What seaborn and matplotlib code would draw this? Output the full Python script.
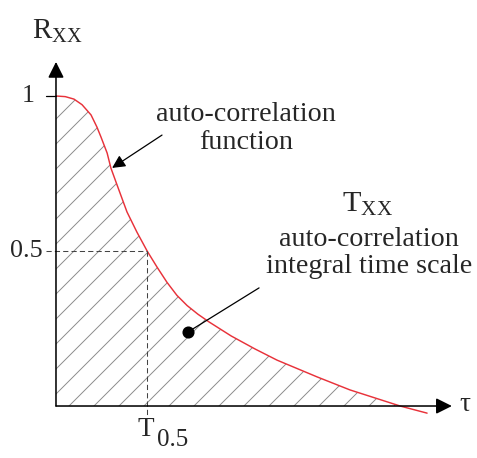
"""
Schematic of an auto-correlation function with its integral time scale.
"""

import matplotlib
matplotlib.use('Agg')
import matplotlib.pyplot as plt
import seaborn as sns
import numpy as np

sns.set_style('white')
plt.rcParams.update({
    'font.family': ['Liberation Serif', 'DejaVu Serif'],
    'mathtext.fontset': 'custom',
    'mathtext.rm': 'Liberation Serif',
    'mathtext.it': 'Liberation Serif:italic',
    'hatch.linewidth': 0.45,
})

# curve (tau, R_xx)
tau = [0.000, 0.030, 0.058, 0.084, 0.113, 0.132, 0.145, 0.165, 0.177, 0.197,
       0.229, 0.261, 0.294, 0.326, 0.358, 0.390, 0.423, 0.458, 0.494, 0.565,
       0.642, 0.713, 0.842, 0.948, 1.110, 1.197]
rxx = [1.000, 0.998, 0.990, 0.972, 0.939, 0.900, 0.868, 0.816, 0.768, 0.713,
       0.626, 0.561, 0.500, 0.448, 0.399, 0.357, 0.324, 0.296, 0.271, 0.226,
       0.184, 0.148, 0.094, 0.052, 0.000, -0.023]

t_half = 0.294
y_ticks = [1.0, 0.5]
y_tick_labels = ['1', '0.5']

RED = '#e8323a'

fig = plt.figure(figsize=(477 / 150, 458 / 150), dpi=150)
ax = fig.add_axes([0, 0, 1, 1])
ax.set_xlim(-0.1806, 1.358)
ax.set_ylim(-0.1677, 1.3097)
ax.axis('off')

# hatched area under the curve
ax.fill_between(tau, np.clip(rxx, 0, None), 0, facecolor='none',
                edgecolor='#8a8a8a', linewidth=0, hatch='//')

# the auto-correlation curve
sns.lineplot(x=tau, y=rxx, sort=False, color=RED, linewidth=0.7, ax=ax,
             solid_joinstyle='round')

# axes with arrow heads
arrow = dict(arrowstyle='-|>', mutation_scale=16, color='black', lw=0.75,
             shrinkA=0, shrinkB=0)
ax.annotate('', xy=(0, 1.11), xytext=(0, 0), arrowprops=arrow)
ax.annotate('', xy=(1.277, 0), xytext=(0, 0), arrowprops=arrow)

# tick at 1, dashed guides at 0.5
ax.plot([-0.032, 0], [1, 1], color='black', lw=0.6)
ax.plot([-0.032, t_half], [0.5, 0.5], color='#444444', lw=0.5, ls=(0, (5, 3)))
ax.plot([t_half, t_half], [0.5, -0.039], color='#444444', lw=0.5, ls=(0, (5, 3)))

for val, lab, xr in zip(y_ticks, y_tick_labels, [-0.068, -0.042]):
    ax.text(xr, val, lab, ha='right', va='center', fontsize=12.5)

ax.text(0.29, -0.077, 'T', ha='center', va='center', fontsize=13)
ax.text(0.377, -0.11, '0.5', ha='center', va='center', fontsize=12)
ax.text(0.006, 1.21, r'$\mathrm{R}_{\mathrm{XX}}$', ha='center', va='center', fontsize=14)
ax.text(1.319, 0.006, 'τ', ha='center', va='center', fontsize=13)

# annotations
ax.text(0.613, 0.894, 'auto-correlation\nfunction', ha='center', va='center',
        fontsize=13.5, linespacing=1.15)
ax.annotate('', xy=(0.181, 0.768), xytext=(0.342, 0.874),
            arrowprops=dict(arrowstyle='-|>', mutation_scale=13, color='black',
                            lw=0.6, shrinkA=0, shrinkB=0))

ax.text(1.006, 0.65, r'$\mathrm{T}_{\mathrm{XX}}$', ha='center', va='center', fontsize=14.5)
ax.text(1.01, 0.494, 'auto-correlation\nintegral time scale', ha='center',
        va='center', fontsize=13.5, linespacing=1.1)
ax.plot([0.426, 0.655], [0.239, 0.381], color='black', lw=0.6)
ax.plot([0.426], [0.239], marker='o', markersize=4.8, color='black')

fig.savefig('out.png', dpi=150)
plt.close()
